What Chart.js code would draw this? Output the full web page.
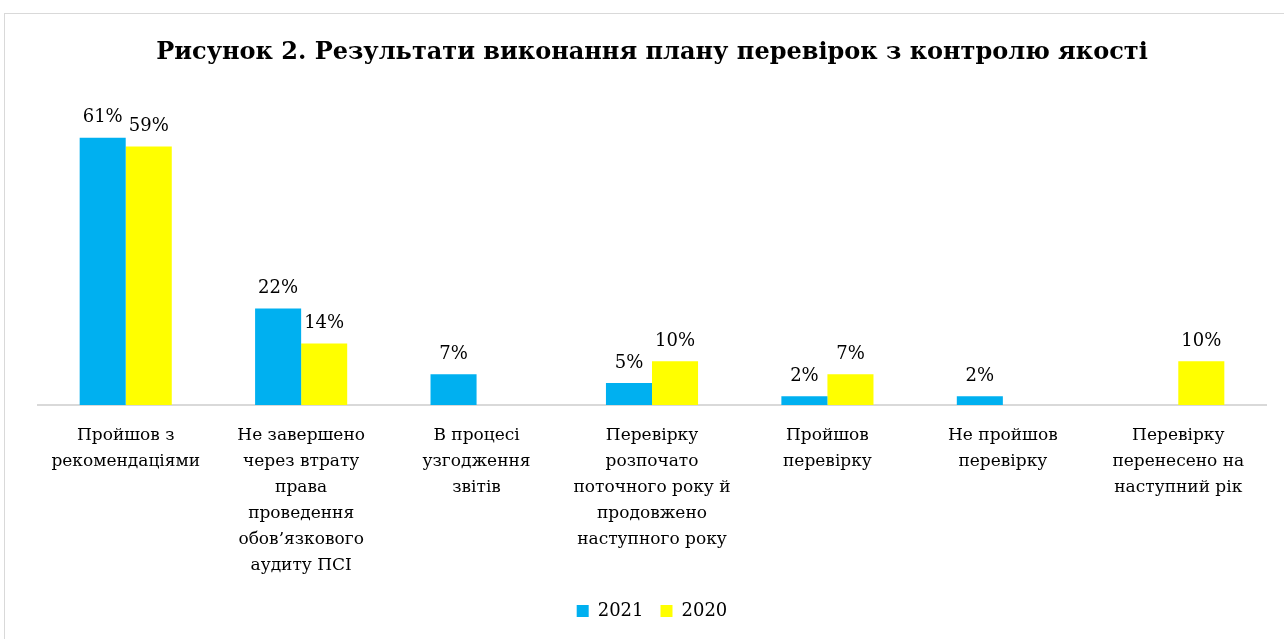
<!DOCTYPE html>
<html>
<head>
<meta charset="utf-8">
<script src="https://cdn.jsdelivr.net/npm/chart.js@4.4.0/dist/chart.umd.min.js"></script>
<style>
  html, body { margin: 0; padding: 0; background: #ffffff; }
  #frame { position: absolute; left: 4px; top: 13px; width: 1290px; height: 640px; border: 1px solid #d9d9d9; box-sizing: border-box; }
  #wrap { position: absolute; left: 0; top: 0; width: 1284px; height: 639px; }
</style>
</head>
<body>
<div id="frame"></div>
<div id="wrap"><canvas id="c"></canvas></div>
<script>
const titleText = "Рисунок 2. Результати виконання плану перевірок з контролю якості";
const categories = [
  ["Пройшов з", "рекомендаціями"],
  ["Не завершено", "через втрату", "права", "проведення", "обов’язкового", "аудиту ПСІ"],
  ["В процесі", "узгодження", "звітів"],
  ["Перевірку", "розпочато", "поточного року й", "продовжено", "наступного року"],
  ["Пройшов", "перевірку"],
  ["Не пройшов", "перевірку"],
  ["Перевірку", "перенесено на", "наступний рік"]
];
const seriesNames = ["2021", "2020"];
const values2021 = [61, 22, 7, 5, 2, 2, null];
const values2020 = [59, 14, null, 10, 7, null, 10];

const FONT = "'DejaVu Serif', serif";

const labelPlugin = {
  id: 'barLabels',
  afterDatasetsDraw(chart) {
    const ctx = chart.ctx;
    ctx.save();
    ctx.font = "18px " + FONT;
    ctx.fillStyle = "#000000";
    ctx.textAlign = "center";
    ctx.textBaseline = "bottom";
    chart.data.datasets.forEach((ds, di) => {
      const meta = chart.getDatasetMeta(di);
      meta.data.forEach((bar, i) => {
        const v = ds.data[i];
        if (v === null || v === undefined) return;
        ctx.fillText(v + "%", bar.x, bar.y - 11);
      });
    });
    ctx.restore();
  }
};

new Chart(document.getElementById('c'), {
  type: 'bar',
  data: {
    labels: categories,
    datasets: [
      { label: seriesNames[0], data: values2021, backgroundColor: '#00B0F0', borderWidth: 0 },
      { label: seriesNames[1], data: values2020, backgroundColor: '#FFFF00', borderWidth: 0 }
    ]
  },
  options: {
    responsive: true,
    maintainAspectRatio: false,
    animation: false,
    devicePixelRatio: 1,
    datasets: { bar: { categoryPercentage: 0.525, barPercentage: 1.0 } },
    layout: { padding: { left: 38, right: 18, top: 38, bottom: 9 } },
    plugins: {
      title: {
        display: true,
        text: titleText,
        color: '#000000',
        font: { family: FONT, size: 24, weight: 'bold' },
        padding: { top: 0, bottom: 31.5 }
      },
      legend: {
        position: 'bottom',
        labels: {
          color: '#000000',
          font: { family: FONT, size: 18 },
          boxWidth: 12, boxHeight: 12, padding: 17
        }
      },
      tooltip: { enabled: false }
    },
    scales: {
      x: {
        grid: { display: false, drawTicks: false },
        border: { display: true, color: '#d9d9d9', width: 2 },
        ticks: { color: '#000000', font: { family: FONT, size: 17, lineHeight: 1.53 }, padding: 18, maxRotation: 0, autoSkip: false },
        afterFit(scale) { scale.height -= 12; }
      },
      y: {
        display: false,
        min: 0,
        max: 70
      }
    }
  },
  plugins: [labelPlugin]
});
</script>
</body>
</html>
